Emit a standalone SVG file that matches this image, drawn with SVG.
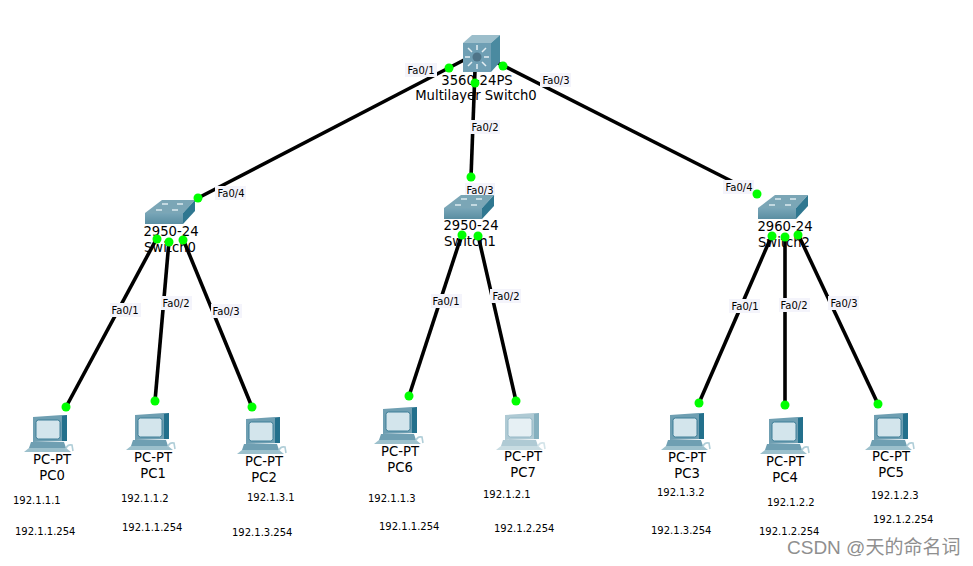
<svg xmlns="http://www.w3.org/2000/svg" width="973" height="566" viewBox="0 0 973 566">
<style>
.bg{fill:#fff}
.link{stroke:#000;stroke-width:3.6;fill:none;stroke-linecap:butt}
.dot{fill:#0f0}
text{font-family:"DejaVu Sans","Liberation Sans",sans-serif;fill:#000}
.nl{font-size:13.2px;text-anchor:middle}
.pl{font-size:10px;text-anchor:middle}
.plb{fill:#f4f4fb}
.ip{font-size:10px}
.wm{font-family:"Liberation Sans","Noto Sans CJK SC",sans-serif;font-size:19px;fill:#8f8f8f}
</style>
<defs>
<linearGradient id="fr" x1="0" y1="0" x2="0" y2="1"><stop offset="0" stop-color="#79a6b8"/><stop offset="1" stop-color="#5a8ea2"/></linearGradient>
<g id="sw">
<polygon points="0,13 17,0 50,0 38,13" fill="#7ba6b6"/>
<polygon points="0,13 38,13 38,24 0,24" fill="url(#fr)"/>
<polygon points="38,13 50,0 50,11 38,24" fill="#2f7790"/>
<path d="M17,4h6M32,4h6M11,10h6M27,10h6" stroke="#dceaef" stroke-width="1.5" fill="none"/>
</g>
<g id="pc">
<polygon points="-2,27 31,27 33,33 -4,33" fill="#6f9fb2"/>
<polygon points="-4,33 33,33 38,37 -9,37" fill="#9cc0cc"/>
<polygon points="0,2 29,0 34,0 34,26 0,27" fill="#6f9fb2"/>
<polygon points="29,1 34,0 34,26 29,26" fill="#23708c"/>
<rect x="3" y="5" width="24" height="19" rx="2.5" fill="#d3e5ec" stroke="#3f7f98"/>
<path d="M33,34q1,-5 6,-4l1,6" fill="none" stroke="#b0ced8" stroke-width="1.6"/>
</g>
<g id="pcl" opacity="0.55"><use href="#pc"/></g>
</defs>
<rect class="bg" width="973" height="566"/>
<g id="connectors">
<path class="link" d="M464,60L198,198"/>
<path class="link" d="M475,70L471,177"/>
<path class="link" d="M492,60L757,194"/>
<path class="link" d="M157,238L66,407"/>
<path class="link" d="M169,241L155,401"/>
<path class="link" d="M183,239L252,407"/>
<path class="link" d="M462,234L409,396"/>
<path class="link" d="M478,235L516,401"/>
<path class="link" d="M772,235L699,403"/>
<path class="link" d="M785,236L785,405"/>
<path class="link" d="M798,234L878,404"/>
<g id="link-labels">
<rect class="plb" x="405" y="63" width="32" height="14"/><text class="pl" x="421" y="74">Fa0/1</text>
<rect class="plb" x="470" y="120" width="30" height="14"/><text class="pl" x="485" y="131">Fa0/2</text>
<rect class="plb" x="540" y="73" width="31" height="14"/><text class="pl" x="556" y="84">Fa0/3</text>
<rect class="plb" x="215" y="186" width="31" height="14"/><text class="pl" x="231" y="197">Fa0/4</text>
<rect class="plb" x="465" y="183" width="30" height="14"/><text class="pl" x="480" y="194">Fa0/3</text>
<rect class="plb" x="723" y="180" width="31" height="14"/><text class="pl" x="739" y="191">Fa0/4</text>
<rect class="plb" x="110" y="303" width="31" height="14"/><text class="pl" x="125" y="314">Fa0/1</text>
<rect class="plb" x="161" y="296" width="31" height="14"/><text class="pl" x="176" y="307">Fa0/2</text>
<rect class="plb" x="211" y="304" width="31" height="14"/><text class="pl" x="226" y="315">Fa0/3</text>
<rect class="plb" x="431" y="294" width="31" height="14"/><text class="pl" x="446" y="305">Fa0/1</text>
<rect class="plb" x="490" y="289" width="31" height="14"/><text class="pl" x="506" y="300">Fa0/2</text>
<rect class="plb" x="729" y="299" width="31" height="14"/><text class="pl" x="745" y="310">Fa0/1</text>
<rect class="plb" x="779" y="298" width="31" height="14"/><text class="pl" x="794" y="309">Fa0/2</text>
<rect class="plb" x="828" y="296" width="31" height="14"/><text class="pl" x="844" y="307">Fa0/3</text>
</g>
</g>
<g id="MultilayerSwitch0">
<polygon points="463,43 472,35 500,35 491,43" fill="#9cbecb"/>
<rect x="463" y="43" width="28" height="29" fill="#6f9fb4"/>
<polygon points="491,43 500,35 500,62 491,72" fill="#4a8aa0"/>
<circle cx="477" cy="57" r="4.5" fill="#4f7488"/>
<path d="M477,45v5M477,64v5M465,57h5M484,57h5M468,48l4,4M486,48l-4,4M468,66l4,-4M486,66l-4,-4" stroke="#e4eef2" stroke-width="1.5" fill="none"/>
<text class="nl" x="477" y="85">3560-24PS</text>
<text class="nl" x="476" y="100">Multilayer Switch0</text>
</g>
<g id="Switch0"><use href="#sw" x="145" y="200"/><text class="nl" x="171" y="236">2950-24</text><text class="nl" x="170" y="252">Switch0</text></g>
<g id="Switch1"><use href="#sw" x="444" y="195"/><text class="nl" x="471" y="230">2950-24</text><text class="nl" x="470" y="246">Switch1</text></g>
<g id="Switch2"><use href="#sw" x="758" y="195"/><text class="nl" x="785" y="231">2960-24</text><text class="nl" x="784" y="247">Switch2</text></g>
<g id="PC0"><use href="#pc" x="33" y="415"/><text class="nl" x="52" y="464">PC-PT</text><text class="nl" x="52" y="480">PC0</text></g>
<g id="PC1"><use href="#pc" x="135" y="413"/><text class="nl" x="153" y="462">PC-PT</text><text class="nl" x="153" y="478">PC1</text></g>
<g id="PC2"><use href="#pc" x="246" y="417"/><text class="nl" x="264" y="466">PC-PT</text><text class="nl" x="264" y="482">PC2</text></g>
<g id="PC6"><use href="#pc" x="383" y="407"/><text class="nl" x="400" y="456">PC-PT</text><text class="nl" x="400" y="472">PC6</text></g>
<g id="PC7"><use href="#pcl" x="505" y="413"/><text class="nl" x="523" y="461">PC-PT</text><text class="nl" x="523" y="477">PC7</text></g>
<g id="PC3"><use href="#pc" x="670" y="413"/><text class="nl" x="687" y="462">PC-PT</text><text class="nl" x="687" y="478">PC3</text></g>
<g id="PC4"><use href="#pc" x="769" y="417"/><text class="nl" x="785" y="466">PC-PT</text><text class="nl" x="785" y="482">PC4</text></g>
<g id="PC5"><use href="#pc" x="874" y="413"/><text class="nl" x="891" y="461">PC-PT</text><text class="nl" x="891" y="477">PC5</text></g>
<g id="dots">
<circle class="dot" cx="449" cy="68" r="4.5"/><circle class="dot" cx="475" cy="83" r="4.5"/><circle class="dot" cx="503" cy="66" r="4.5"/>
<circle class="dot" cx="198" cy="198" r="4.5"/><circle class="dot" cx="471" cy="177" r="4.5"/><circle class="dot" cx="757" cy="194" r="4.5"/>
<circle class="dot" cx="157" cy="239" r="4.5"/><circle class="dot" cx="169" cy="242" r="4.5"/><circle class="dot" cx="183" cy="240" r="4.5"/>
<circle class="dot" cx="462" cy="235" r="4.5"/><circle class="dot" cx="478" cy="236" r="4.5"/>
<circle class="dot" cx="772" cy="236" r="4.5"/><circle class="dot" cx="785" cy="237" r="4.5"/><circle class="dot" cx="798" cy="235" r="4.5"/>
<circle class="dot" cx="66" cy="407" r="4.5"/><circle class="dot" cx="155" cy="401" r="4.5"/><circle class="dot" cx="252" cy="407" r="4.5"/>
<circle class="dot" cx="409" cy="396" r="4.5"/><circle class="dot" cx="516" cy="401" r="4.5"/>
<circle class="dot" cx="699" cy="403" r="4.5"/><circle class="dot" cx="785" cy="405" r="4.5"/><circle class="dot" cx="878" cy="404" r="4.5"/>
</g>
<g id="notes">
<text class="ip" x="13" y="504">192.1.1.1</text><text class="ip" x="15" y="535">192.1.1.254</text>
<text class="ip" x="121" y="502">192.1.1.2</text><text class="ip" x="122" y="531">192.1.1.254</text>
<text class="ip" x="247" y="501">192.1.3.1</text><text class="ip" x="232" y="536">192.1.3.254</text>
<text class="ip" x="368" y="502">192.1.1.3</text><text class="ip" x="379" y="530">192.1.1.254</text>
<text class="ip" x="483" y="498">192.1.2.1</text><text class="ip" x="494" y="532">192.1.2.254</text>
<text class="ip" x="657" y="496">192.1.3.2</text><text class="ip" x="651" y="534">192.1.3.254</text>
<text class="ip" x="767" y="506">192.1.2.2</text><text class="ip" x="759" y="535">192.1.2.254</text>
<text class="ip" x="871" y="499">192.1.2.3</text><text class="ip" x="873" y="523">192.1.2.254</text>
</g>
<text class="wm" x="787" y="554">CSDN @天的命名词</text>
</svg>
